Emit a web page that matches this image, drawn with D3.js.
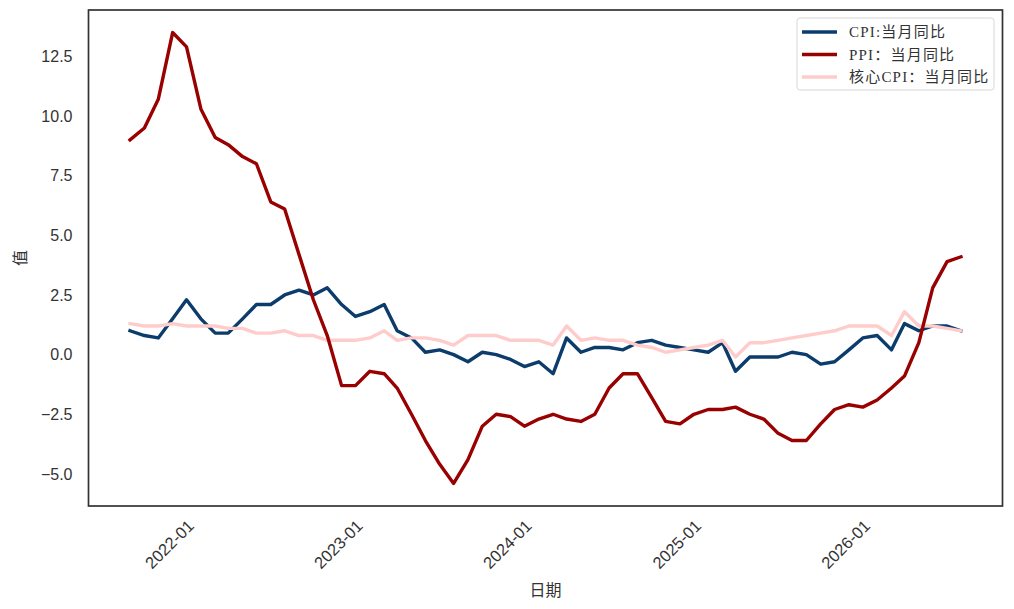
<!DOCTYPE html>
<html>
<head>
<meta charset="utf-8">
<script src="https://cdn.jsdelivr.net/npm/d3@7"></script>
<style>
  body { margin: 0; background: #fff; }
  svg { display: block; }
</style>
</head>
<body>
<div id="chart"></div>
<script>
'use strict';

// monthly observations, 2021-08 .. 2026-07
var months = [
    '2021-08', '2021-09', '2021-10', '2021-11', '2021-12',
    '2022-01', '2022-02', '2022-03', '2022-04', '2022-05', '2022-06',
    '2022-07', '2022-08', '2022-09', '2022-10', '2022-11', '2022-12',
    '2023-01', '2023-02', '2023-03', '2023-04', '2023-05', '2023-06',
    '2023-07', '2023-08', '2023-09', '2023-10', '2023-11', '2023-12',
    '2024-01', '2024-02', '2024-03', '2024-04', '2024-05', '2024-06',
    '2024-07', '2024-08', '2024-09', '2024-10', '2024-11', '2024-12',
    '2025-01', '2025-02', '2025-03', '2025-04', '2025-05', '2025-06',
    '2025-07', '2025-08', '2025-09', '2025-10', '2025-11', '2025-12',
    '2026-01', '2026-02', '2026-03', '2026-04', '2026-05', '2026-06',
    '2026-07'
];

var cpi = [
    1.0, 0.8, 0.7, 1.5, 2.3, 1.5, 0.9, 0.9, 1.5, 2.1, 2.1, 2.5,
    2.7, 2.5, 2.8, 2.1, 1.6, 1.8, 2.1, 1.0, 0.7, 0.1, 0.2, 0.0,
    -0.3, 0.1, 0.0, -0.2, -0.5, -0.3, -0.8, 0.7, 0.1, 0.3, 0.3, 0.2,
    0.5, 0.6, 0.4, 0.3, 0.2, 0.1, 0.5, -0.7, -0.1, -0.1, -0.1, 0.1,
    0.0, -0.4, -0.3, 0.2, 0.7, 0.8, 0.2, 1.3, 1.0, 1.2, 1.2, 1.0
];

var ppi = [
    9.0, 9.5, 10.7, 13.5, 12.9, 10.3, 9.1, 8.8, 8.3, 8.0, 6.4, 6.1,
    4.2, 2.3, 0.8, -1.3, -1.3, -0.7, -0.8, -1.4, -2.5, -3.6, -4.6, -5.4,
    -4.4, -3.0, -2.5, -2.6, -3.0, -2.7, -2.5, -2.7, -2.8, -2.5, -1.4, -0.8,
    -0.8, -1.8, -2.8, -2.9, -2.5, -2.3, -2.3, -2.2, -2.5, -2.7, -3.3, -3.6,
    -3.6, -2.9, -2.3, -2.1, -2.2, -1.9, -1.4, -0.9, 0.5, 2.8, 3.9, 4.1
];

var coreCpi = [
    1.3, 1.2, 1.2, 1.3, 1.2, 1.2, 1.2, 1.1, 1.1, 0.9, 0.9, 1.0,
    0.8, 0.8, 0.6, 0.6, 0.6, 0.7, 1.0, 0.6, 0.7, 0.7, 0.6, 0.4,
    0.8, 0.8, 0.8, 0.6, 0.6, 0.6, 0.4, 1.2, 0.6, 0.7, 0.6, 0.6,
    0.4, 0.3, 0.1, 0.2, 0.3, 0.4, 0.6, -0.1, 0.5, 0.5, 0.6, 0.7,
    0.8, 0.9, 1.0, 1.2, 1.2, 1.2, 0.8, 1.8, 1.2, 1.2, 1.1, 1.0
];

var yTicks = [-5, -2.5, 0, 2.5, 5, 7.5, 10, 12.5];

var seriesNames = ['CPI:当月同比', 'PPI：当月同比', '核心CPI：当月同比'];
var seriesColors = ['#0b3c6c', '#990000', '#ffcccc'];

var W = 1014, H = 609;
var margin = { top: 10, right: 11.5, bottom: 103, left: 88.5 };
var iw = W - margin.left - margin.right;
var ih = H - margin.top - margin.bottom;

var parse = d3.timeParse('%Y-%m-%d');
var dates = months.map(function (m) { return parse(m + '-15'); });

var seriesValues = [cpi, ppi, coreCpi];
var series = seriesValues.map(function (vals, k) {
    return {
        name: seriesNames[k],
        color: seriesColors[k],
        points: vals.map(function (v, i) { return { date: dates[i], value: v }; })
    };
});

// matplotlib style 5% padding around the data
function padded(ext) {
    var span = ext[1] - ext[0];
    return [ext[0] - span * 0.05, ext[1] + span * 0.05];
}

var tExt = d3.extent(dates, function (d) { return +d; });
var tPad = padded(tExt);
var x = d3.scaleTime()
    .domain([new Date(tPad[0]), new Date(tPad[1])])
    .range([0, iw]);

var allVals = cpi.concat(ppi, coreCpi);
var y = d3.scaleLinear()
    .domain(padded(d3.extent(allVals)))
    .range([ih, 0]);

var svg = d3.select('#chart')
    .append('svg')
    .attr('width', W)
    .attr('height', H);

var g = svg.append('g')
    .attr('transform', 'translate(' + margin.left + ',' + margin.top + ')');

var tickFont = '"Liberation Sans", Arial, sans-serif';
var cjkFont = '"Noto Sans CJK SC", sans-serif';

// y axis (labels only, no tick marks)
var yAxis = d3.axisLeft(y)
    .tickValues(yTicks)
    .tickSize(0)
    .tickPadding(16)
    .tickFormat(function (d) { return d3.format('.1f')(d).replace('-', '\u2212'); });

g.append('g')
    .attr('class', 'y-axis')
    .call(yAxis)
    .call(function (s) { s.select('.domain').remove(); })
    .selectAll('text')
    .attr('font-family', tickFont)
    .attr('font-size', '16px')
    .attr('fill', '#333');

// x axis, yearly ticks, rotated labels
var xAxis = d3.axisBottom(x)
    .ticks(d3.timeYear.every(1))
    .tickSize(0)
    .tickFormat(d3.timeFormat('%Y-%m'));

var xg = g.append('g')
    .attr('class', 'x-axis')
    .attr('transform', 'translate(0,' + ih + ')')
    .call(xAxis);
xg.select('.domain').remove();
xg.selectAll('text')
    .attr('font-family', tickFont)
    .attr('font-size', '16.5px')
    .attr('fill', '#333')
    .attr('text-anchor', 'end')
    .attr('x', 0)
    .attr('y', 21)
    .attr('dy', 0)
    .attr('transform', 'rotate(-45, 0, 21)');

// lines
var line = d3.line()
    .x(function (d) { return x(d.date); })
    .y(function (d) { return y(d.value); });

var drawOrder = [series[0], series[2], series[1]];
g.selectAll('path.series')
    .data(drawOrder)
    .enter()
    .append('path')
    .attr('class', 'series')
    .attr('fill', 'none')
    .attr('stroke', function (d) { return d.color; })
    .attr('stroke-width', 3.4)
    .attr('stroke-linejoin', 'round')
    .attr('stroke-linecap', 'square')
    .attr('d', function (d) { return line(d.points); });

// frame
g.append('rect')
    .attr('x', 0)
    .attr('y', 0)
    .attr('width', iw)
    .attr('height', ih)
    .attr('fill', 'none')
    .attr('stroke', '#333')
    .attr('stroke-width', 1.7);

// legend
var lg = g.append('g')
    .attr('transform', 'translate(' + (797 - margin.left) + ',' + (18 - margin.top) + ')');

lg.append('rect')
    .attr('width', 197)
    .attr('height', 72)
    .attr('rx', 3)
    .attr('fill', '#fff')
    .attr('fill-opacity', 0.8)
    .attr('stroke', '#d8d8d8')
    .attr('stroke-width', 1);

var item = lg.selectAll('g.item')
    .data(series)
    .enter()
    .append('g')
    .attr('class', 'item')
    .attr('transform', function (d, i) { return 'translate(0,' + (14 + i * 22.5) + ')'; });

item.append('line')
    .attr('x1', 5)
    .attr('x2', 40)
    .attr('stroke', function (d) { return d.color; })
    .attr('stroke-width', 3.4);

item.append('text')
    .attr('x', 52)
    .attr('dy', '0.35em')
    .attr('font-family', '"Liberation Serif", ' + cjkFont)
    .attr('font-size', '15px')
    .attr('letter-spacing', '1.2px')
    .attr('fill', '#333')
    .text(function (d) { return d.name; });

// axis titles
svg.append('text')
    .attr('x', margin.left + iw / 2)
    .attr('y', 596)
    .attr('text-anchor', 'middle')
    .attr('font-family', cjkFont)
    .attr('font-size', '16px')
    .attr('fill', '#333')
    .text('日期');

svg.append('text')
    .attr('transform', 'translate(26,' + (margin.top + ih / 2) + ') rotate(-90)')
    .attr('text-anchor', 'middle')
    .attr('font-family', cjkFont)
    .attr('font-size', '16px')
    .attr('fill', '#333')
    .text('值');
</script>
</body>
</html>
